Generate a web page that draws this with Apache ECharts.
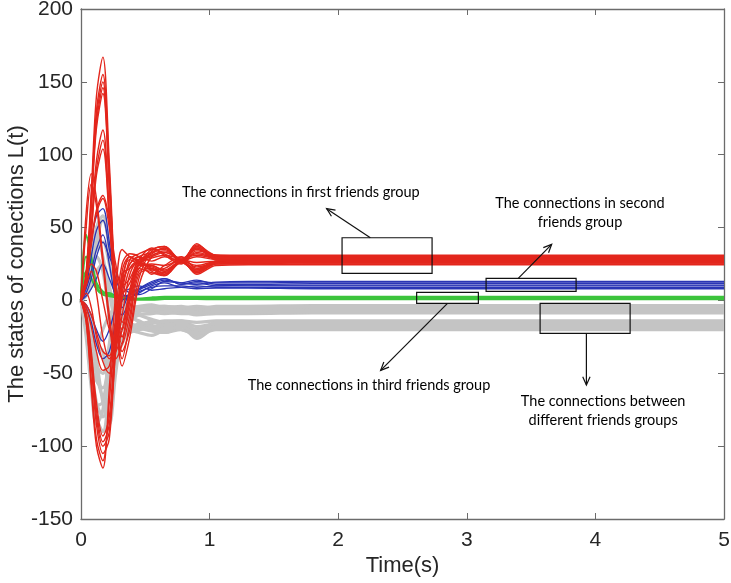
<!DOCTYPE html>
<html>
<head>
<meta charset="utf-8">
<script src="https://cdn.jsdelivr.net/npm/echarts@6/dist/echarts.min.js"></script>
<style>
  html, body { margin: 0; background: #fff; }
  #chart { width: 731px; height: 583px; }
</style>
</head>
<body>
<div id="chart"></div>
<script>
// sample times (s)
const time = [0, 0.04, 0.08, 0.12, 0.17, 0.22, 0.27, 0.32, 0.38, 0.45, 0.55, 0.65, 0.78, 0.9, 1.05, 1.3, 1.8, 5];

// connections in first friends group (red)
const redLines = [
  [0, 20, 75, 140, 167, 95, 5, -35, -20, 15, 34, 37, 26, 39, 29, 29, 30, 30],
  [0, 18, 70, 130, 155, 88, 0, -30, -10, 20, 22, 18, 27, 19, 26, 27, 26, 26],
  [0, 17, 68, 126, 150, 85, 8, -25, -5, 25, 33, 35, 27, 37, 30, 30, 29, 29.5],
  [0, 16, 66, 122, 146, 80, 2, -40, -15, 18, 21, 17, 26, 20, 25, 25, 25, 25],
  [0, 15, 64, 118, 142, 76, -5, -45, -25, 10, 30, 33, 28, 35, 31, 31, 31, 31],
  [0, 14, 52, 96, 117, 62, -2, -20, 5, 24, 24, 20, 27, 21, 27, 26, 27, 27],
  [0, 12, 48, 90, 110, 58, 3, -15, 8, 26, 32, 36, 26, 36, 28, 28.5, 28, 28],
  [0, 12, 46, 86, 104, 55, 0, -25, 0, 22, 19, 17, 28, 18, 24, 24.5, 24.5, 24.5],
  [0, 60, 87, 70, 30, -10, -35, -20, 5, 25, 29, 31, 29, 32, 29, 28, 28.5, 29],
  [0, 50, 80, 65, 25, -15, -40, -30, 0, 22, 25, 24, 28, 26, 27, 27, 27.5, 27.5],
  [0, 15, 40, 62, 72, 55, 25, 10, 15, 28, 36, 31, 25, 33, 30, 30, 30.5, 30.5],
  [0, 14, 38, 60, 70, 50, 20, 5, 12, 26, 18, 24, 30, 22, 26, 26, 26, 26],
  [0, -15, -60, -100, -115, -60, 5, 35, 30, 28, 35, 37, 27, 38, 31, 30.5, 30.5, 30.5],
  [0, -14, -55, -95, -110, -70, -10, 25, 32, 30, 20, 18, 27, 19, 25, 25.5, 25, 25],
  [0, -12, -45, -85, -105, -95, -30, 20, 30, 27, 31, 34, 28, 36, 29, 29, 29, 29],
  [0, -10, -40, -80, -100, -90, -25, 15, 28, 25, 23, 20, 27, 21, 26, 26.5, 26.5, 26.5],
  [0, -10, -38, -75, -97, -85, -35, 10, 25, 30, 33, 36, 28, 37, 30, 29.5, 29.5, 29.5],
  [0, -8, -35, -70, -93, -80, -20, 18, 22, 26, 22, 19, 26, 20, 27, 27.5, 27.5, 28],
  [0, -5, -18, -35, -48, -45, -20, 10, 25, 30, 27, 30, 27, 30, 28, 28, 28, 28],
  [0, 5, -5, -25, -42, -50, -35, 0, 22, 27, 21, 22, 28, 23, 26, 27, 27, 27],
  [0, 10, 20, 5, -25, -40, -30, 5, 28, 32, 35, 32, 26, 34, 31, 30, 30, 30],
  [0, -3, -10, -22, -35, -38, -15, 12, 30, 26, 24, 21, 27, 24, 27, 28, 28.5, 28.5],
  [0, 15, 25, 20, 0, -20, -30, -10, 18, 28, 30, 33, 29, 31, 29, 29, 29, 29]
];

// connections in second friends group (blue)
const blueLines = [
  [0, 15, 40, 58, 63, 40, 10, -5, 5, 8, 12, 15, 11, 13, 12, 12, 12.5, 12.5],
  [0, 10, 30, 48, 55, 35, 15, 5, 2, 6, 9, 10, 10, 9, 10, 10.5, 10.5, 10.5],
  [0, 5, 15, 30, 40, 30, 20, 10, 5, 4, 8, 13, 12, 14, 11, 11, 11.5, 11.5],
  [0, -5, -15, -30, -40, -35, -15, 0, 2, 5, 10, 12, 9, 10, 9, 9, 9, 9],
  [0, -3, -10, -20, -28, -20, -5, 5, 8, 10, 7, 8, 9, 8, 8.5, 8.5, 8, 8],
  [0, 8, 20, 35, 45, 25, 0, -10, 0, 7, 11, 14, 12, 11, 12.5, 13, 13, 13],
  [0, 3, 8, 15, 25, 15, 5, 3, 4, 8, 13, 15, 11, 12, 10, 10, 10, 10]
];

// connections in third friends group (green)
const greenLines = [
  [0, 45, 30, 10, 5, 5, 3, 2, 1, 1, 2, 2.5, 2.5, 2.5, 2.5, 2.5, 2.5, 2.5],
  [0, 30, 25, 12, 6, 4, 3, 2, 1.5, 1, 1, 1.5, 1.5, 1.5, 1.5, 1.5, 1.5, 1.5],
  [0, 20, 15, 8, 4, 3, 2, 1, 0.5, 0.5, 0.5, 1, 1, 1, 0.8, 0.8, 0.8, 0.8]
];

// connections between different groups (gray)
const grayLines = [
  [0, -20, -55, -80, -90, -60, -20, -5, -10, -15, -20, -22, -18, -26, -19, -19, -19, -19],
  [0, -15, -45, -70, -80, -55, -25, -15, -20, -22, -24, -20, -16, -24, -17, -17, -17, -17],
  [0, -10, -35, -55, -60, -40, -15, -10, -15, -18, -14, -16, -20, -22, -15, -15, -15, -15],
  [0, 10, 30, 50, 58, 35, 5, -15, -20, -20, -16, -14, -14, -18, -16, -16, -16.5, -16.5],
  [0, 5, 20, 40, 55, 40, 10, -5, -8, -10, -13, -15, -14, -15, -14, -14, -14, -14],
  [0, -5, -25, -45, -50, -30, 0, -3, -5, -4, -3, -5, -4, -6, -4, -4, -3.5, -3.5],
  [0, 8, 25, 35, 40, 25, 5, -5, -8, -7, -8, -9, -8, -10, -9, -9, -8.5, -8.5],
  [0, -8, -30, -50, -65, -45, -10, 0, -5, -6, -6, -5, -6, -7, -6, -6, -6, -6],
  [0, 3, 10, 20, 25, 10, -10, -20, -15, -8, -5, -4, -5, -5, -5, -5, -5, -5],
  [0, -25, -60, -85, -75, -40, -30, -20, -18, -19, -21, -22, -20, -24, -20, -20, -20, -20],
  [0, -18, -50, -72, -70, -50, -20, -12, -12, -14, -18, -18, -17, -21, -18, -18, -18, -18],
  [0, 12, 35, 45, 30, 5, -10, -8, -6, -5, -7, -7, -7, -8, -7, -7, -7, -7],
  [0, -12, -30, -30, -20, -10, -5, -4, -4, -5, -4, -4, -5, -4, -5, -5, -4.5, -4.5],
  [0, -6, -20, -40, -70, -85, -50, -25, -22, -20, -19, -20, -18, -23, -18.5, -18.5, -18.5, -18.5],
  [0, 6, 18, 30, 20, -10, -35, -30, -15, -10, -9, -8, -9, -9, -8, -8, -7.5, -7.5],
  [0, -4, -15, -30, -35, -60, -40, -15, -18, -16, -15, -17, -15, -20, -15.5, -15.5, -15.5, -15.5]
];

// annotations, in data coordinates
const notes = [
  { box: [2.03, 18.5, 2.73, 43], arrow: [[2.25, 43], [1.91, 63]], text: ['The connections in first friends group'], at: [1.71, 74] },
  { box: [3.15, 6.2, 3.85, 15.1], arrow: [[3.40, 15.1], [3.66, 38.5]], text: ['The connections in second', 'friends group'], at: [3.88, 60] },
  { box: [2.61, -2, 3.09, 5.5], arrow: [[2.85, -2], [2.33, -48]], text: ['The connections in third friends group'], at: [2.24, -58] },
  { box: [3.57, -22.6, 4.27, -2], arrow: [[3.93, -22.6], [3.93, -58]], text: ['The connections between', 'different friends groups'], at: [4.06, -76] }
];

const axisColor = '#6b6b6b';
const labelFont = 'Liberation Sans';

const makeSeries = (lines, color, width) => lines.map(line => ({
  type: 'line',
  data: time.map((t, i) => [t, line[i]]),
  showSymbol: false,
  smooth: 0.35,
  silent: true,
  lineStyle: { color: color, width: width }
}));

const boxAxis = (pos, extra) => Object.assign({
  type: 'value',
  position: pos,
  axisLine: { show: true, onZero: false, lineStyle: { color: axisColor, width: 1.3 } },
  axisTick: { show: true, inside: true, length: 6, lineStyle: { color: axisColor } },
  splitLine: { show: false },
  axisLabel: { show: false }
}, extra);

const option = {
  backgroundColor: '#fff',
  animation: false,
  grid: { left: 81, right: 7, top: 9, bottom: 64, containLabel: false, outerBoundsMode: 'none' },
  xAxis: [
    boxAxis('bottom', {
      min: 0, max: 5, interval: 1,
      axisLabel: { show: true, fontSize: 21, color: '#262626', fontFamily: labelFont, margin: 11 },
      name: 'Time(s)', nameLocation: 'middle', nameGap: 36, nameMoveOverlap: false,
      nameTextStyle: { fontSize: 22, color: '#262626', fontFamily: labelFont }
    }),
    boxAxis('top', { min: 0, max: 5, interval: 1 })
  ],
  yAxis: [
    boxAxis('left', {
      min: -150, max: 200, interval: 50,
      axisLabel: { show: true, fontSize: 21, color: '#262626', fontFamily: labelFont, margin: 8 },
      name: 'The states of conections L(t)', nameLocation: 'middle', nameGap: 53, nameMoveOverlap: false,
      nameTextStyle: { fontSize: 22, color: '#262626', fontFamily: labelFont }
    }),
    boxAxis('right', { min: -150, max: 200, interval: 50 })
  ],
  series: [
    ...makeSeries(grayLines, '#c4c4c4', 3.2),
    ...makeSeries(greenLines, '#3cc43c', 2.2),
    ...makeSeries(blueLines, '#2a35b5', 1.3),
    ...makeSeries(redLines, '#e3261c', 1.4)
  ]
};

const chart = echarts.init(document.getElementById('chart'));
chart.setOption(option);

// boxes, arrows and texts placed through the grid's own scales
const px = p => chart.convertToPixel({ gridIndex: 0 }, p);
const noteStyle = { stroke: '#111', lineWidth: 1.2, fill: null };
const graphics = [];
notes.forEach(n => {
  const a = px([n.box[0], n.box[3]]);
  const b = px([n.box[2], n.box[1]]);
  graphics.push({ type: 'rect', shape: { x: a[0], y: a[1], width: b[0] - a[0], height: b[1] - a[1] }, style: noteStyle, z: 100 });
  const s = px(n.arrow[0]);
  const e = px(n.arrow[1]);
  const ang = Math.atan2(e[1] - s[1], e[0] - s[0]);
  const head = 9, spread = 0.42;
  graphics.push({ type: 'line', shape: { x1: s[0], y1: s[1], x2: e[0], y2: e[1] }, style: noteStyle, z: 100 });
  graphics.push({
    type: 'polyline',
    shape: { points: [
      [e[0] - head * Math.cos(ang - spread), e[1] - head * Math.sin(ang - spread)],
      e,
      [e[0] - head * Math.cos(ang + spread), e[1] - head * Math.sin(ang + spread)]
    ] },
    style: noteStyle, z: 100
  });
  const c = px(n.at);
  graphics.push({
    type: 'text', x: c[0], y: c[1], z: 100,
    style: {
      text: n.text.join('\n'), fill: '#000', font: '14.5px Lato',
      align: 'center', verticalAlign: 'middle', lineHeight: 19
    }
  });
});
chart.setOption({ graphic: graphics });
</script>
</body>
</html>
